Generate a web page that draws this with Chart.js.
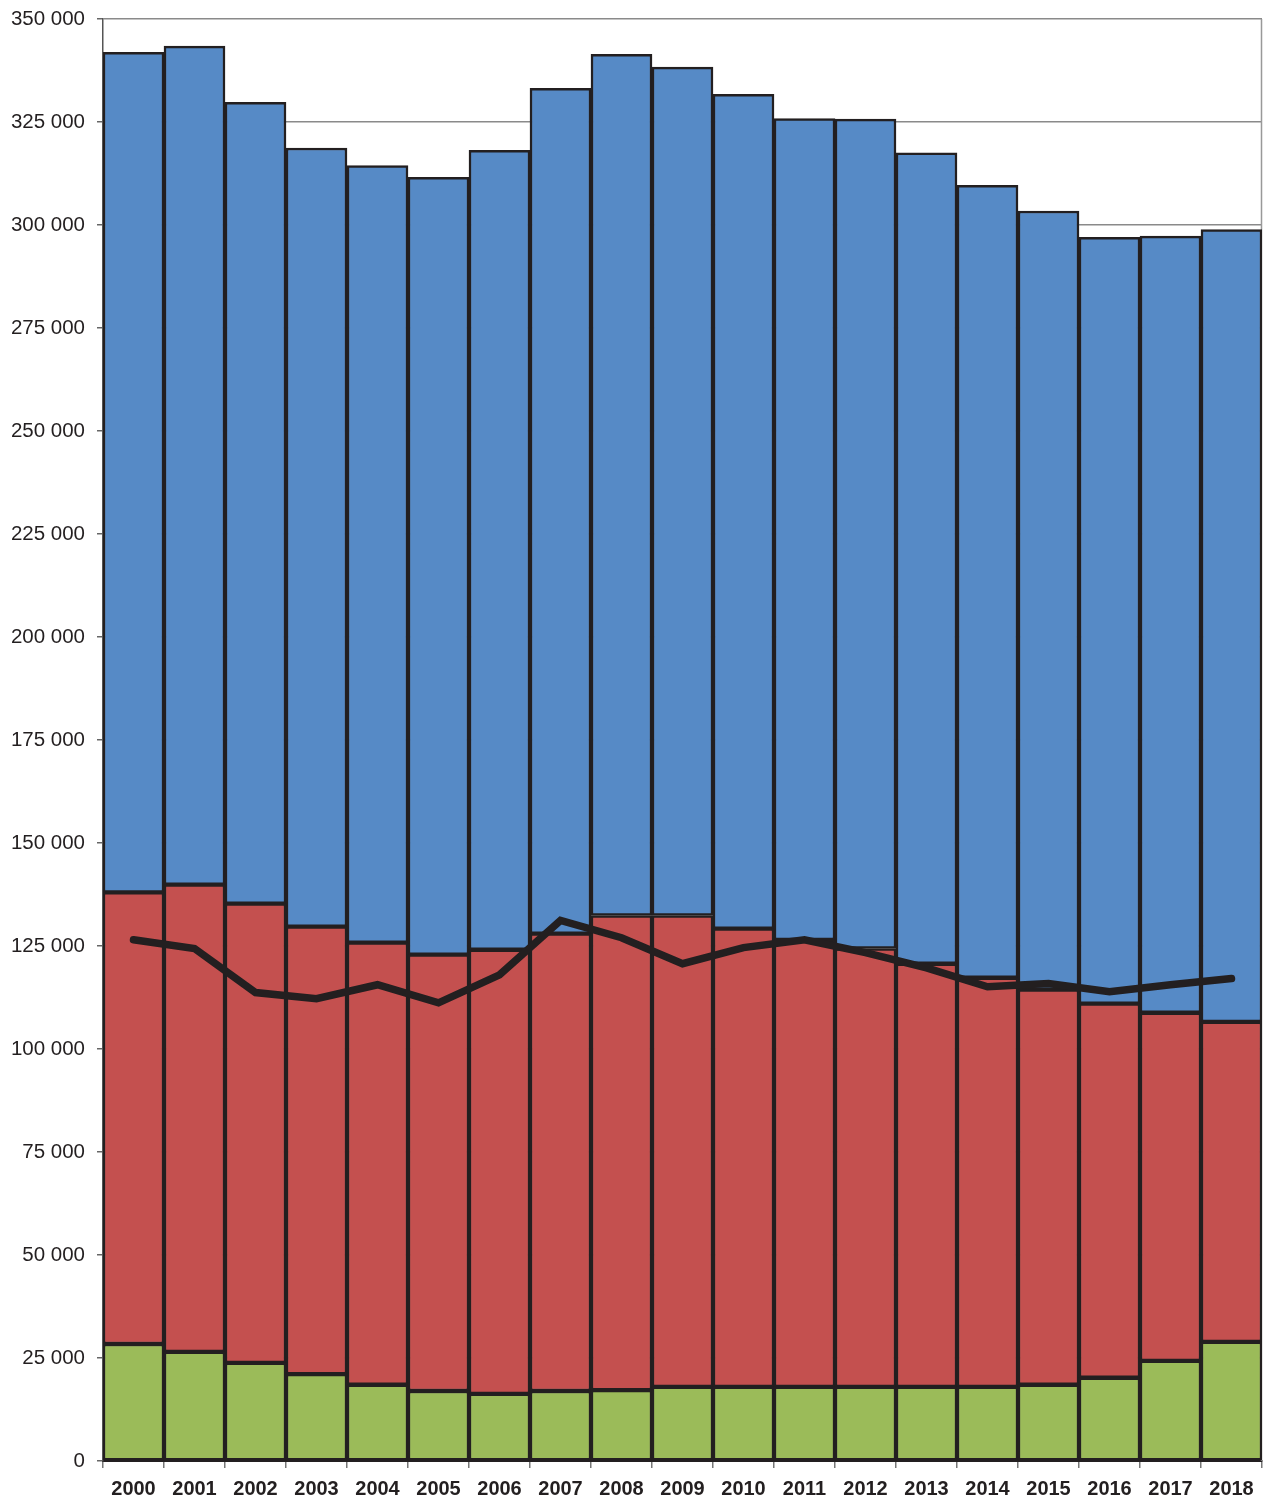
<!DOCTYPE html>
<html>
<head>
<meta charset="utf-8">
<script src="https://cdn.jsdelivr.net/npm/chart.js@4.4.1/dist/chart.umd.min.js"></script>
<style>
  body { margin: 0; background: #fff; }
  #wrap { width: 1263px; height: 1499px; position: relative; }
</style>
</head>
<body>
<div id="wrap"><canvas id="myChart"></canvas></div>
<script>
// categories
const years = ["2000", "2001", "2002", "2003", "2004", "2005", "2006", "2007", "2008", "2009",
  "2010", "2011", "2012", "2013", "2014", "2015", "2016", "2017", "2018"];

// stacked segments (bottom to top)
const greenData = [28400, 26500, 23800, 21100, 18500, 17000, 16300, 17000, 17200, 18000,
  18000, 18000, 18000, 18000, 18000, 18500, 20200, 24300, 28900];
const redData = [109600, 113400, 111500, 108600, 107300, 105900, 107800, 111000, 115200, 114400,
  111200, 108500, 106400, 102700, 99300, 95900, 90800, 84500, 77700];
const blueData = [203900, 203500, 194500, 189000, 188600, 188700, 194000, 205200, 209000, 205900,
  202500, 199300, 201300, 196800, 192300, 189000, 186000, 188500, 192300];

// black line
const lineData = [126500, 124400, 113700, 112200, 115600, 111200, 118000, 131200, 127000, 120700,
  124600, 126500, 123400, 119700, 115100, 115900, 113900, 115600, 117100];

// y axis ticks
const yMax = 350000;
const yStep = 25000;

const ink = "#231F20";

function spaced(v) {
  return String(v).replace(/\B(?=(\d{3})+(?!\d))/g, " ");
}

// gray frame on the right side of the plot
const rightBorder = {
  id: "rightBorder",
  beforeDatasetsDraw(chart) {
    const a = chart.chartArea;
    const c = chart.ctx;
    c.save();
    c.strokeStyle = "#999";
    c.lineWidth = 1.5;
    c.beginPath();
    c.moveTo(a.right - 0.5, a.top);
    c.lineTo(a.right - 0.5, a.bottom);
    c.stroke();
    c.restore();
  }
};

const barStyle = {
  borderColor: ink,
  borderWidth: 2.5,
  borderSkipped: false,
  categoryPercentage: 1,
  barPercentage: 1,
  order: 1
};

new Chart(document.getElementById("myChart"), {
  type: "bar",
  data: {
    labels: years,
    datasets: [
      {
        type: "line",
        label: "line",
        data: lineData,
        borderColor: ink,
        borderWidth: 7.5,
        borderCapStyle: "round",
        pointRadius: 0,
        tension: 0,
        stack: "line",
        order: 0
      },
      Object.assign({ label: "green", data: greenData, backgroundColor: "#9BBB59", stack: "s" }, barStyle),
      Object.assign({ label: "red", data: redData, backgroundColor: "#C4504F", stack: "s" }, barStyle),
      Object.assign({ label: "blue", data: blueData, backgroundColor: "#568AC6", stack: "s" }, barStyle)
    ]
  },
  options: {
    responsive: true,
    maintainAspectRatio: false,
    animation: false,
    layout: { padding: { top: 19, right: 1, left: 0, bottom: 0 } },
    plugins: {
      legend: { display: false },
      tooltip: { enabled: false }
    },
    scales: {
      x: {
        stacked: true,
        grid: {
          display: true,
          offset: true,
          drawOnChartArea: false,
          drawTicks: true,
          tickLength: 7,
          color: "#777",
          lineWidth: 1.5
        },
        border: { display: true, color: ink, width: 2 },
        ticks: {
          color: ink,
          font: { family: "'Liberation Sans', Arial, sans-serif", size: 20, weight: "bold" },
          padding: 9,
          maxRotation: 0,
          autoSkip: false
        },
        afterFit(scale) { scale.height = 38; }
      },
      y: {
        stacked: true,
        min: 0,
        max: yMax,
        grid: {
          color: "#8a8a8a",
          lineWidth: 1.5,
          drawTicks: true,
          tickLength: 6,
          tickColor: "#666"
        },
        border: { display: true, color: "#555", width: 1.5 },
        ticks: {
          stepSize: yStep,
          color: ink,
          font: { family: "'Liberation Sans', Arial, sans-serif", size: 20.5 },
          padding: 12,
          callback: v => spaced(v)
        },
        afterFit(scale) {
          scale.width = 103;
          scale.paddingTop = 0;
          scale.paddingBottom = 0;
        }
      }
    }
  },
  plugins: [rightBorder]
});
</script>
</body>
</html>
